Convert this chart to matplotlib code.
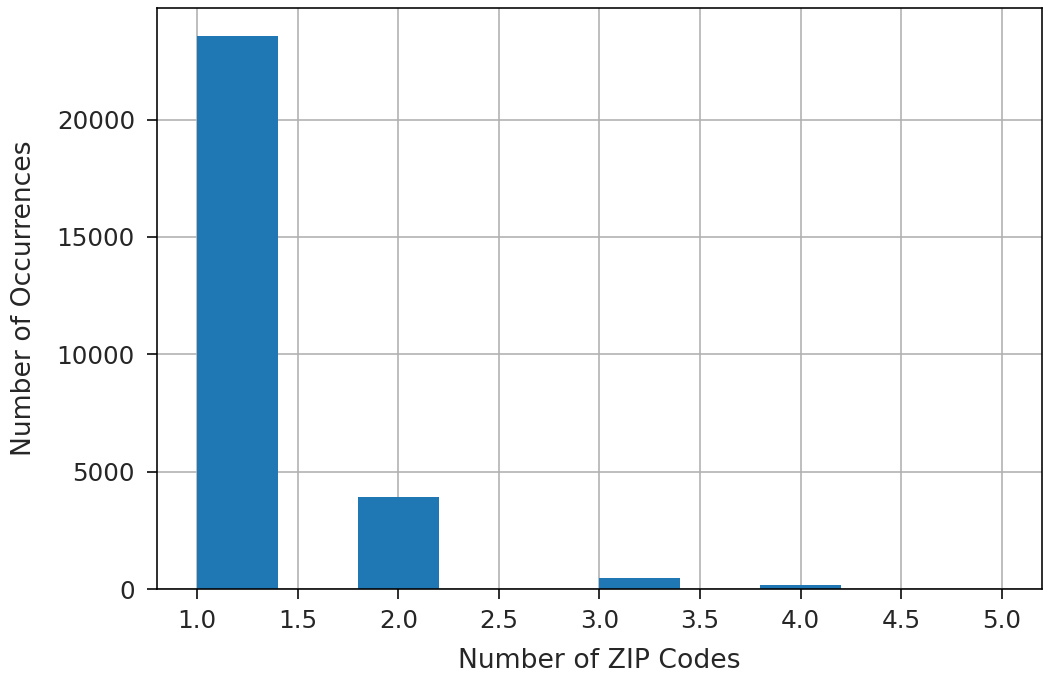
import matplotlib
matplotlib.use("Agg")
import matplotlib.pyplot as plt
import numpy as np

# histogram of ZIP codes per record, 10 bins from 1 to 5
bin_edges = [1.0, 1.4, 1.8, 2.2, 2.6, 3.0, 3.4, 3.8, 4.2, 4.6, 5.0]
counts = [23570, 0, 3910, 0, 0, 480, 0, 150, 0, 20]

centers = [(a + b) / 2 for a, b in zip(bin_edges[:-1], bin_edges[1:])]

text_color = "#262626"

fig = plt.figure(figsize=(1043 / 144, 675 / 144), dpi=144)
ax = fig.add_axes([0.1505, 0.1274, 0.8485, 0.8606])

ax.hist(centers, bins=bin_edges, weights=counts, color="#1f77b4")
ax.grid(True, color="#b0b0b0", linewidth=0.8)
ax.set_axisbelow(True)
ax.tick_params(axis="both", labelsize=12.3, length=5, labelcolor=text_color)
ax.tick_params(axis="x", pad=5)
ax.tick_params(axis="y", pad=6)
ax.set_xlabel("Number of ZIP Codes", fontsize=13.3, color=text_color, labelpad=7.5)
ax.set_ylabel("Number of Occurrences", fontsize=13.3, color=text_color, labelpad=10)

fig.savefig("out.png", dpi=144)
